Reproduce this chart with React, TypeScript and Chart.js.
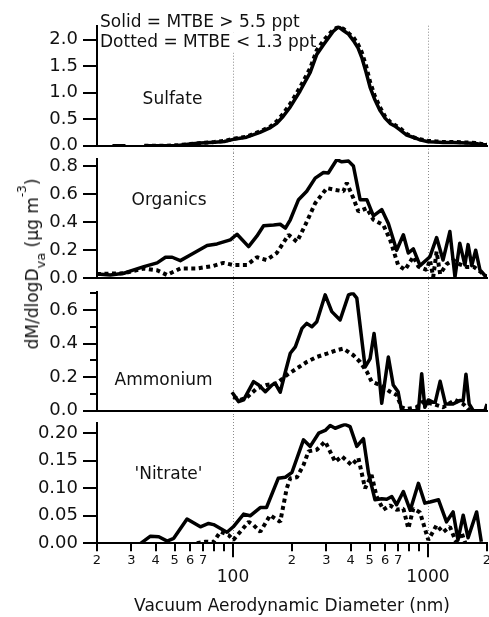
import React, { useEffect, useRef } from 'react';
import { Chart, registerables } from 'chart.js';

Chart.register(...registerables);

const FONT = "'DejaVu Sans', 'Liberation Sans', sans-serif";
const INK = '#111111';

// ---------- shared x axis ----------
const xMin = 20;
const xMax = 2000;
const xTickValues = [20, 30, 40, 50, 60, 70, 80, 90, 100, 200, 300, 400, 500, 600, 700, 800, 900, 1000, 2000];
const xTickLabels = ['2', '3', '4', '5', '6', '7', '', '', '', '2', '3', '4', '5', '6', '7', '', '', '', '2'];
const xMajorValues = [100, 1000];
const xMajorLabels = ['100', '1000'];
const xTitle = 'Vacuum Aerodynamic Diameter (nm)';
const referenceLines = [100, 1000];
const legendLines = ['Solid = MTBE > 5.5 ppt', 'Dotted = MTBE < 1.3 ppt'];

// ---------- Sulfate ----------
const sulfateTicks = [0, 0.5, 1, 1.5, 2];
const sulfateTickLabels = ['0.0', '0.5', '1.0', '1.5', '2.0'];
const sulfateSolidD = [24, 28, 31, 35, 45, 52, 60, 68, 80, 90, 100, 117, 137, 155, 167, 180, 196, 220, 248, 268, 290, 306, 325, 346, 367, 390, 413, 435, 456, 480, 503, 530, 566, 600, 637, 680, 716, 775, 850, 907, 1000, 1100, 1190, 1350, 1580, 1750, 1900, 2000];
const sulfateSolidV = [0, 0, null, 0, 0, 0.005, 0.03, 0.05, 0.065, 0.08, 0.12, 0.16, 0.25, 0.34, 0.42, 0.55, 0.73, 1.03, 1.38, 1.72, 1.9, 2.02, 2.15, 2.24, 2.17, 2.1, 1.98, 1.85, 1.66, 1.38, 1.1, 0.88, 0.66, 0.52, 0.42, 0.36, 0.3, 0.2, 0.15, 0.11, 0.075, 0.07, 0.06, 0.06, 0.05, 0.04, 0.02, 0.02];
const sulfateDotD = [35, 45, 52, 60, 68, 80, 90, 100, 117, 137, 155, 167, 180, 196, 220, 248, 268, 290, 306, 325, 346, 367, 390, 413, 435, 456, 480, 503, 530, 566, 600, 637, 680, 716, 775, 850, 907, 1000, 1100, 1190, 1350, 1580, 1750, 1900, 2000];
const sulfateDotV = [0, 0, 0.01, 0.03, 0.05, 0.07, 0.09, 0.13, 0.17, 0.27, 0.36, 0.46, 0.6, 0.79, 1.1, 1.46, 1.8, 1.98, 2.08, 2.18, 2.24, 2.2, 2.12, 2.04, 1.92, 1.76, 1.5, 1.2, 0.95, 0.72, 0.55, 0.45, 0.38, 0.33, 0.22, 0.15, 0.12, 0.09, 0.08, 0.07, 0.07, 0.06, 0.05, 0.03, 0.03];

// ---------- Organics ----------
const organicsTicks = [0, 0.2, 0.4, 0.6, 0.8];
const organicsTickLabels = ['0.0', '0.2', '0.4', '0.6', '0.8'];
const organicsSolidD = [20, 23.4, 27.5, 30.9, 34.8, 40.7, 44.9, 48.6, 53.5, 60.2, 73.4, 82.5, 96.5, 104.5, 119.8, 132, 143, 161, 174, 185, 196, 216, 238, 263, 290, 307, 339, 360, 390, 413, 447, 484, 523, 577, 624, 688, 745, 790, 838, 907, 1020, 1103, 1190, 1290, 1370, 1450, 1540, 1600, 1670, 1750, 1840, 1950, 2000];
const organicsSolidV = [0.03, 0.024, 0.036, 0.06, 0.083, 0.11, 0.15, 0.15, 0.126, 0.166, 0.233, 0.245, 0.274, 0.314, 0.226, 0.3, 0.374, 0.38, 0.385, 0.357, 0.417, 0.56, 0.62, 0.714, 0.754, 0.75, 0.845, 0.83, 0.835, 0.8, 0.56, 0.56, 0.445, 0.49, 0.39, 0.2, 0.31, 0.18, 0.21, 0.09, 0.154, 0.29, 0.13, 0.333, 0.01, 0.25, 0.095, 0.24, 0.09, 0.2, 0.06, 0.02, 0.01];
const organicsDotD = [20, 27.5, 34.8, 40.7, 45.6, 53.5, 65, 79, 89, 100, 117.5, 132, 148, 167, 192, 212, 234, 263, 302, 333, 367, 382, 413, 438, 484, 523, 588, 637, 700, 760, 838, 890, 980, 1020, 1060, 1103, 1150, 1240, 1340, 1450, 1580, 1720, 1840, 1950, 2000];
const organicsDotV = [0.03, 0.036, 0.07, 0.057, 0.024, 0.07, 0.07, 0.088, 0.11, 0.095, 0.095, 0.15, 0.13, 0.18, 0.31, 0.26, 0.38, 0.535, 0.643, 0.63, 0.62, 0.68, 0.57, 0.476, 0.5, 0.417, 0.38, 0.274, 0.095, 0.06, 0.154, 0.083, 0.06, 0.13, 0.01, 0.19, 0.03, 0.1, 0.13, 0.1, 0.08, 0.08, 0.05, 0.02, 0.01];

// ---------- Ammonium ----------
const ammoniumTicks = [0, 0.2, 0.4, 0.6];
const ammoniumTickLabels = ['0.0', '0.2', '0.4', '0.6'];
const ammoniumMinorTicks = [0.1, 0.3, 0.5, 0.7];
const ammoniumSolidD = [98.5, 106.5, 113, 127, 135, 146, 158, 164, 174, 185, 196, 208, 225, 238, 253, 268, 296, 320, 353, 390, 410, 430, 474, 503, 527, 555, 577, 624, 661, 700, 730, 800, 890, 925, 960, 1000, 1060, 1085, 1150, 1225, 1340, 1450, 1510, 1560, 1620, 1700, 1800, 1950, 2000];
const ammoniumSolidV = [0.11, 0.054, 0.064, 0.173, 0.153, 0.113, 0.153, 0.163, 0.11, 0.232, 0.342, 0.38, 0.49, 0.52, 0.5, 0.53, 0.69, 0.59, 0.54, 0.69, 0.7, 0.67, 0.26, 0.31, 0.46, 0.25, 0.044, 0.32, 0.153, 0.113, 0, 0, 0, 0.22, 0.02, 0.064, 0.05, 0.05, 0.175, 0.04, 0.04, 0.06, 0.06, 0.217, 0.04, 0, 0, 0, 0.04];
const ammoniumDotD = [100, 108.6, 117.5, 132, 148, 167, 188, 212, 238, 268, 302, 339, 367, 413, 447, 484, 512, 566, 637, 688, 730, 775, 870, 940, 1060, 1190, 1370, 1510, 1630, 1700];
const ammoniumDotV = [0.083, 0.064, 0.08, 0.133, 0.153, 0.163, 0.212, 0.252, 0.29, 0.32, 0.34, 0.36, 0.37, 0.33, 0.29, 0.232, 0.173, 0.153, 0.113, 0.093, 0.02, 0.01, 0.02, 0.054, 0.04, 0.02, 0.064, 0.04, 0, 0];

// ---------- 'Nitrate' ----------
const nitrateTicks = [0, 0.05, 0.1, 0.15, 0.2];
const nitrateTickLabels = ['0.00', '0.05', '0.10', '0.15', '0.20'];
const nitrateSolidD = [33.5, 37.6, 41.5, 45.8, 49.5, 57.9, 67.8, 74.7, 79.2, 92.8, 100, 113, 122, 137.5, 148, 170, 185, 200, 229, 248, 274, 296, 314, 333, 374, 397, 430, 465, 494, 533, 577, 612, 650, 688, 745, 808, 890, 960, 1020, 1128, 1240, 1340, 1420, 1510, 1600, 1770, 1870];
const nitrateSolidV = [0, 0.013, 0.012, 0.004, 0.009, 0.044, 0.03, 0.036, 0.034, 0.02, 0.03, 0.053, 0.05, 0.065, 0.065, 0.118, 0.12, 0.129, 0.188, 0.176, 0.2, 0.205, 0.214, 0.209, 0.216, 0.212, 0.176, 0.19, 0.127, 0.079, 0.081, 0.08, 0.085, 0.07, 0.094, 0.06, 0.109, 0.073, 0.075, 0.079, 0.039, 0.057, 0.006, 0.051, 0.01, 0.057, 0.003];
const nitrateDotD = [65, 72, 79, 85.8, 94.6, 100, 108.6, 120, 127, 137.5, 154.6, 174, 188, 196, 212, 229, 243, 268, 296, 333, 360, 405, 438, 474, 512, 543, 588, 637, 688, 745, 790, 838, 907, 1000, 1103, 1190, 1290, 1390, 1480, 1550];
const nitrateDotV = [0, 0.003, 0.002, 0.021, 0.015, 0.006, 0.021, 0.039, 0.033, 0.021, 0.051, 0.039, 0.1, 0.118, 0.12, 0.142, 0.167, 0.17, 0.185, 0.148, 0.158, 0.142, 0.155, 0.1, 0.124, 0.085, 0.061, 0.069, 0.061, 0.063, 0.027, 0.063, 0.056, 0.006, 0.033, 0.02, 0.03, 0.002, 0.02, 0];

type Panel = {
  key: string;
  name: string;
  nameX: number;
  nameY: number;
  top: number;
  height: number;
  padTop: number;
  padBottom: number;
  yMax: number;
  yTicks: number[];
  yLabels: string[];
  yMinor?: number[];
  solidD: number[];
  solidV: (number | null)[];
  dotD: number[];
  dotV: (number | null)[];
  first?: boolean;
  last?: boolean;
};

const panels: Panel[] = [
  { key: 'sulfate', name: 'Sulfate', nameX: 172.5, nameY: 100, top: 0, height: 153, padTop: 25.7, padBottom: 7.3, yMax: 2.26, yTicks: sulfateTicks, yLabels: sulfateTickLabels, solidD: sulfateSolidD, solidV: sulfateSolidV, dotD: sulfateDotD, dotV: sulfateDotV, first: true },
  { key: 'organics', name: 'Organics', nameX: 169, nameY: 48, top: 153, height: 132, padTop: 6, padBottom: 6.7, yMax: 0.85, yTicks: organicsTicks, yLabels: organicsTickLabels, solidD: organicsSolidD, solidV: organicsSolidV, dotD: organicsDotD, dotV: organicsDotV },
  { key: 'ammonium', name: 'Ammonium', nameX: 163.5, nameY: 96, top: 285, height: 131, padTop: 7.3, padBottom: 5.3, yMax: 0.705, yTicks: ammoniumTicks, yLabels: ammoniumTickLabels, yMinor: ammoniumMinorTicks, solidD: ammoniumSolidD, solidV: ammoniumSolidV, dotD: ammoniumDotD, dotV: ammoniumDotV },
  { key: 'nitrate', name: "'Nitrate'", nameX: 168.5, nameY: 58.3, top: 416, height: 201, padTop: 7.3, padBottom: 0, yMax: 0.218, yTicks: nitrateTicks, yLabels: nitrateTickLabels, solidD: nitrateSolidD, solidV: nitrateSolidV, dotD: nitrateDotD, dotV: nitrateDotV, last: true },
];

const PLOT_BOTTOM_LAST = 127.3;

function makeDecor(p: Panel) {
  return {
    id: 'decor_' + p.key,
    beforeDraw(chart: any) {
      const { ctx, chartArea, scales } = chart;
      ctx.save();
      ctx.strokeStyle = '#8a8a8a';
      ctx.lineWidth = 1;
      ctx.setLineDash([1, 2]);
      const y0 = p.first ? chartArea.top : 0;
      const y1 = p.last ? chartArea.bottom : chart.height;
      for (const v of referenceLines) {
        const px = Math.round(scales.x.getPixelForValue(v)) + 0.5;
        ctx.beginPath();
        ctx.moveTo(px, y0);
        ctx.lineTo(px, y1);
        ctx.stroke();
      }
      ctx.restore();
    },
    beforeDatasetsDraw(chart: any) {
      const { ctx, chartArea } = chart;
      ctx.save();
      ctx.font = `17px ${FONT}`;
      ctx.textBaseline = 'middle';
      if (p.first) {
        const ys = [22.5, 42.5];
        legendLines.forEach((t, i) => {
          const x = chartArea.left + 3;
          const w = ctx.measureText(t).width;
          ctx.fillStyle = '#ffffff';
          ctx.fillRect(x - 1, ys[i] - 10, w + 2, 20);
          ctx.fillStyle = INK;
          ctx.textAlign = 'left';
          ctx.fillText(t, x, ys[i]);
        });
      }
      ctx.fillStyle = INK;
      ctx.textAlign = 'center';
      ctx.fillText(p.name, p.nameX, p.nameY);
      ctx.restore();
    },
    afterDraw(chart: any) {
      const { ctx, chartArea, scales } = chart;
      ctx.save();
      ctx.strokeStyle = '#000';
      ctx.lineWidth = 2;
      if (p.yMinor) {
        for (const v of p.yMinor) {
          const py = Math.round(scales.y.getPixelForValue(v));
          ctx.beginPath();
          ctx.moveTo(chartArea.left - 7, py);
          ctx.lineTo(chartArea.left, py);
          ctx.stroke();
        }
      }
      if (p.last) {
        ctx.font = `17px ${FONT}`;
        ctx.fillStyle = INK;
        ctx.textAlign = 'center';
        ctx.textBaseline = 'middle';
        xMajorValues.forEach((v, i) => {
          const px = Math.round(scales.x.getPixelForValue(v));
          ctx.beginPath();
          ctx.moveTo(px, chartArea.bottom);
          ctx.lineTo(px, chartArea.bottom + 14);
          ctx.stroke();
          ctx.fillText(xMajorLabels[i], px, chartArea.bottom + 34.4);
        });
      }
      ctx.restore();
    },
  };
}

function series(d: number[], v: (number | null)[], dotted: boolean) {
  return {
    data: d.map((x, i) => ({ x, y: v[i] })),
    borderColor: '#000',
    backgroundColor: '#000',
    borderWidth: dotted ? 4 : 3.5,
    borderDash: dotted ? [4, 3.5] : [],
    borderCapStyle: 'butt',
    borderJoinStyle: dotted ? 'bevel' : 'round',
    pointRadius: 0,
    pointHoverRadius: 0,
    tension: 0,
    spanGaps: false,
    fill: false,
  };
}

function buildChart(canvas: HTMLCanvasElement, p: Panel) {
  const xScale: any = p.last
    ? {
        type: 'logarithmic',
        min: xMin,
        max: xMax,
        afterBuildTicks: (s: any) => {
          s.ticks = xTickValues.map((v) => ({ value: v }));
        },
        afterFit: (s: any) => {
          s.height = p.height - PLOT_BOTTOM_LAST;
          s.paddingLeft = 0;
          s.paddingRight = 0;
        },
        ticks: {
          autoSkip: false,
          maxRotation: 0,
          minRotation: 0,
          padding: 2,
          color: INK,
          font: { family: FONT, size: 13 },
          callback: (_v: any, i: number) => xTickLabels[i],
        },
        grid: { display: true, drawOnChartArea: false, drawTicks: true, tickLength: 8, color: '#000', lineWidth: 2 },
        border: { display: true, color: '#000', width: 2 },
        title: { display: true, text: xTitle, color: INK, font: { family: FONT, size: 17 }, padding: { top: 0, bottom: 0 } },
      }
    : {
        type: 'logarithmic',
        min: xMin,
        max: xMax,
        ticks: { display: false },
        grid: { display: false, drawTicks: false },
        border: { display: true, color: '#000', width: 2 },
        afterFit: (s: any) => {
          s.height = 0;
          s.paddingLeft = 0;
          s.paddingRight = 0;
        },
      };

  return new Chart(canvas, {
    type: 'line',
    data: {
      datasets: [series(p.dotD, p.dotV, true), series(p.solidD, p.solidV, false)] as any,
    },
    options: {
      animation: false,
      responsive: false,
      events: [],
      layout: { padding: { top: p.padTop, bottom: p.padBottom, left: 0, right: 2 } },
      plugins: { legend: { display: false }, tooltip: { enabled: false } },
      scales: {
        x: xScale,
        y: {
          type: 'linear',
          min: 0,
          max: p.yMax,
          afterBuildTicks: (s: any) => {
            s.ticks = p.yTicks.map((v) => ({ value: v }));
          },
          afterFit: (s: any) => {
            s.width = 97;
            s.paddingTop = 0;
            s.paddingBottom = 0;
          },
          ticks: {
            padding: 5,
            color: INK,
            font: { family: FONT, size: 18 },
            callback: (_v: any, i: number) => p.yLabels[i],
          },
          grid: { display: true, drawOnChartArea: false, drawTicks: true, tickLength: 14, color: '#000', lineWidth: 2 },
          border: { display: true, color: '#000', width: 2 },
        },
      },
    } as any,
    plugins: [makeDecor(p)],
  });
}

export default function App() {
  const refs = useRef<(HTMLCanvasElement | null)[]>([]);

  useEffect(() => {
    const charts = panels.map((p, i) => buildChart(refs.current[i] as HTMLCanvasElement, p));
    return () => {
      charts.forEach((c) => c.destroy());
    };
  }, []);

  return (
    <div style={{ position: 'absolute', left: 0, top: 0, width: 489, height: 617, background: '#fff', overflow: 'hidden' }}>
      {panels.map((p, i) => (
        <canvas
          key={p.key}
          ref={(el) => {
            refs.current[i] = el;
          }}
          width={489}
          height={p.height}
          style={{ position: 'absolute', left: 0, top: p.top, width: 489, height: p.height }}
        />
      ))}
      <div
        style={{
          position: 'absolute',
          left: 33.4,
          top: 264,
          transform: 'translate(-50%, -50%) rotate(-90deg)',
          whiteSpace: 'nowrap',
          fontFamily: FONT,
          fontSize: 17,
          lineHeight: '20px',
          color: INK,
        }}
      >
        dM/dlogD
        <span style={{ fontSize: 13, position: 'relative', top: 7 }}>va</span>
        {' (µg m'}
        <span style={{ fontSize: 12, position: 'relative', top: -12 }}>-3</span>
        {')'}
      </div>
    </div>
  );
}
